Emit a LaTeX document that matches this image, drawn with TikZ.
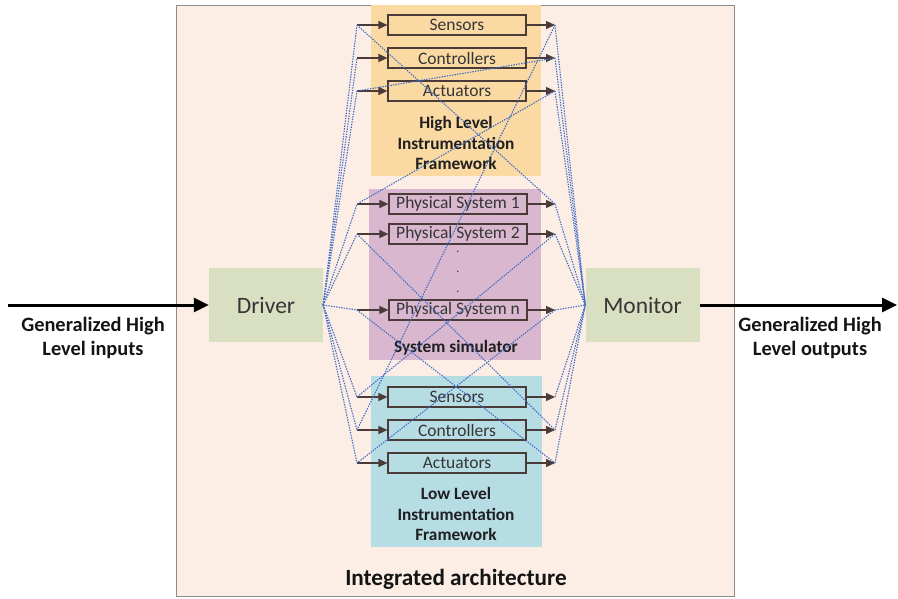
\documentclass[tikz,border=0pt]{standalone}
\usepackage{fontspec}
\setmainfont{Carlito}
\usetikzlibrary{arrows.meta}
\definecolor{bgpeach}{HTML}{FDEEE5}
\definecolor{hlfill}{HTML}{FAD9A3}
\definecolor{simfill}{HTML}{D9B7CE}
\definecolor{llfill}{HTML}{B6DCE4}
\definecolor{dmfill}{HTML}{D9DFC1}
\definecolor{boxline}{HTML}{4A3A38}
\definecolor{txtgray}{HTML}{363636}
\definecolor{dotblue}{HTML}{3F6CC8}
\tikzset{
  region/.style={draw=none, inner sep=0pt, outer sep=0pt},
  unitbox/.style={draw=boxline, line width=1.2pt, minimum width=138, minimum height=20, inner sep=0pt, text=txtgray, font=\fontsize{17.5}{19}\selectfont},
  blockbox/.style={fill=dmfill, draw=none, minimum width=114, minimum height=74, inner sep=0pt, text=txtgray, font=\fontsize{23.5}{26}\selectfont},
  boldlabel/.style={align=center, text=black!88, font=\bfseries\fontsize{17.3}{20.3}\selectfont},
  biglabel/.style={align=center, text=black!92, font=\bfseries\fontsize{20.4}{23.5}\selectfont},
  smallarr/.style={draw=boxline, line width=1.3pt, -{Triangle[length=9pt,width=8pt]}},
  bigarr/.style={draw=black, line width=3pt, -{Triangle[length=15pt,width=14pt]}},
  dotline/.style={draw=dotblue, line width=1.1pt, dash pattern=on 1.4pt off 1.2pt},
}
\begin{document}
\begin{tikzpicture}[x=1pt,y=-1pt]
\useasboundingbox (0,0) rectangle (898,598);
% outer frame
\node[region, fill=bgpeach, draw=black!45, line width=0.8pt, minimum width=558, minimum height=591] (outer) at (455.5,300.5) {};
% group regions
\node[region, fill=hlfill, minimum width=170, minimum height=171] (hl) at (456,90.5) {};
\node[region, fill=simfill, minimum width=172, minimum height=171] (sim) at (455,274.5) {};
\node[region, fill=llfill, minimum width=171, minimum height=171] (ll) at (456.5,461.5) {};
% driver / monitor
\node[blockbox] (drv) at (266,305) {Driver};
\node[blockbox] (mon) at (642.5,305) {Monitor};
% group labels
\node[boldlabel] (hllab) at (456,143) {High Level\\Instrumentation\\Framework};
\node[boldlabel] (simlab) at (456,348) {System simulator};
\node[boldlabel] (lllab) at (456,514) {Low Level\\Instrumentation\\Framework};
\node[biglabel, font=\bfseries\fontsize{23.2}{26}\selectfont] (intlab) at (456,579) {Integrated architecture};
\node[biglabel] (inlab) at (93,338) {Generalized High\\Level inputs};
\node[biglabel] (outlab) at (810,338) {Generalized High\\Level outputs};
% unit boxes
\node[unitbox] (hs) at (457,25) {Sensors};
\node[unitbox] (hc) at (457,58) {Controllers};
\node[unitbox] (ha) at (457,91) {Actuators};
\node[unitbox] (p1) at (458,204) {Physical System 1};
\node[unitbox] (p2) at (458,234) {Physical System 2};
\node[unitbox] (pn) at (458,310) {Physical System n};
\node[unitbox] (ls) at (457,397) {Sensors};
\node[unitbox] (lc) at (457,430) {Controllers};
\node[unitbox] (la) at (457,463) {Actuators};
% dots
\node[region, text=txtgray, font=\fontsize{12}{12}\selectfont] (d1) at (458,252) {.};
\node[region, text=txtgray, font=\fontsize{12}{12}\selectfont] (d2) at (458,272) {.};
\node[region, text=txtgray, font=\fontsize{12}{12}\selectfont] (d3) at (458,292) {.};
% in/out points
\foreach \n/\yy in {hs/25,hc/58,ha/91,p1/204,p2/234,pn/310,ls/397,lc/430,la/463}{
  \coordinate (\n L) at (357,\yy);
  \coordinate (\n R) at (555,\yy);
}
% small arrows
\foreach \n in {hs,hc,ha,p1,p2,pn,ls,lc,la}{
  \draw[smallarr] (\n L) -- (\n.west);
  \draw[smallarr] (\n.east) -- (\n R);
}
% driver / monitor fans
\foreach \n in {hs,hc,ha,p1,p2,pn,ls,lc,la}{
  \draw[dotline] (drv.east) -- (\n L);
  \draw[dotline] (\n R) -- (mon.west);
}
% cross connections
\draw[dotline] (hsL) -- (p1R);
\draw[dotline] (haL) -- (hcR);
\draw[dotline] (haR) -- (p1L);
\draw[dotline] (hsR) -- (lcL);
\draw[dotline] (p2L) -- (lcR);
\draw[dotline] (pnL) -- (laR);
\draw[dotline] (p2R) -- (lsL);
\draw[dotline] (pnR) -- (laL);
% main arrows
\coordinate (inStart) at (8,305);
\coordinate (outEnd) at (897,305);
\draw[bigarr] (inStart) -- (drv.west);
\draw[bigarr] (mon.east) -- (outEnd);
\end{tikzpicture}
\end{document}
